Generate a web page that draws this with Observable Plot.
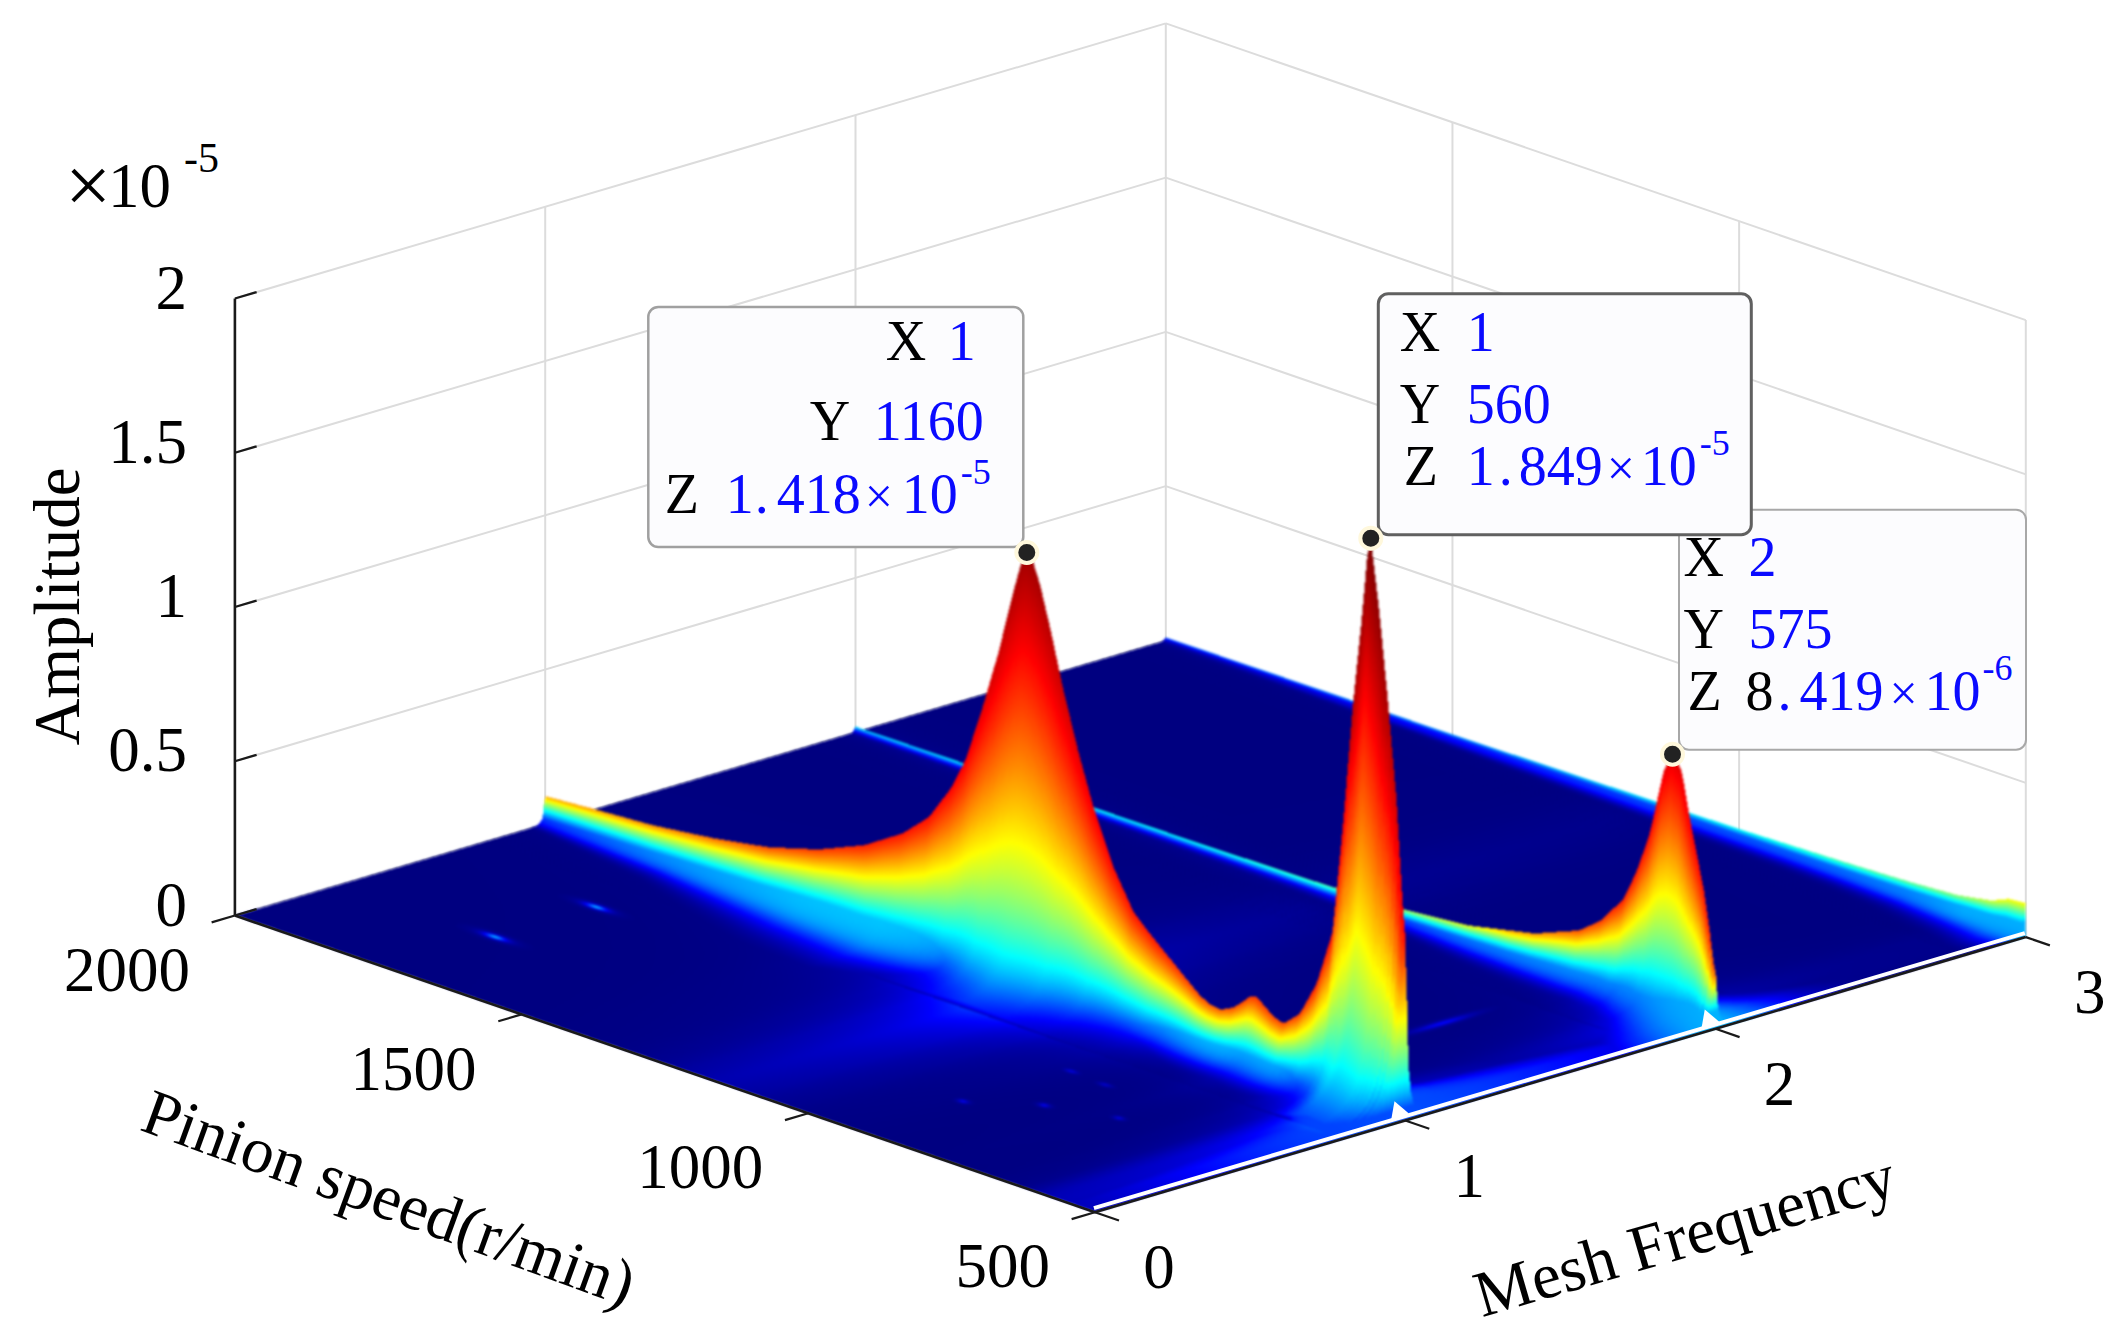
<!DOCTYPE html>
<html><head><meta charset="utf-8">
<style>html,body{margin:0;padding:0;background:#fff}svg{display:block}</style>
<script src="https://cdn.jsdelivr.net/npm/d3@7"></script>
<script src="https://cdn.jsdelivr.net/npm/@observablehq/plot@0.6"></script>
</head><body><div id="chart"></div>
<script>
// ---- values (amplitude in units of 1e-5) ----
const freqTicks = [0, 1, 2, 3];
const speedTicks = [500, 1000, 1500, 2000];
const ampTicks = [0, 0.5, 1, 1.5, 2];
const ampTickLabels = ["0", "0.5", "1", "1.5", "2"];

const ridge1Speed = [500,505,515,530,545,560,564,574,590,607,625,653,683,712,730,747,760,770,785,800,822,840,857,885,915,945,974,1010,1043,1070,1097,1117,1137,1150,1160,1171,1184,1210,1237,1267,1291,1331,1377,1444,1524,1610,1705,1811,1904,2000];
const ridge1Amp   = [0.6,0.72,1.03,1.34,1.62,1.849,1.82,1.6,1.3,0.9,0.54,0.35,0.23,0.178,0.19,0.217,0.235,0.23,0.2,0.174,0.153,0.158,0.175,0.22,0.27,0.32,0.373,0.5,0.663,0.83,1.02,1.183,1.33,1.40,1.418,1.37,1.27,1.058,0.867,0.676,0.573,0.45,0.368,0.287,0.222,0.174,0.142,0.116,0.104,0.09];
const ridge2Speed = [500,503,509,520,544,559,575,590,613,637,660,699,738,815,932,1049,1200,1400,1600,1800,2000];
const ridge2Amp   = [0.18,0.2,0.3,0.435,0.647,0.8,0.8419,0.78,0.57,0.425,0.32,0.224,0.166,0.107,0.058,0.038,0.03,0.024,0.022,0.02,0.018];
const ridge3Speed = [500,530,560,620,700,800,1000,1500,2000];
const ridge3Amp   = [0.11,0.105,0.08,0.06,0.05,0.042,0.03,0.016,0.01];

const widthSpeed = [500,560,600,800,1160,1500,2000];
const ridge1Width = [0.03,0.03,0.025,0.02,0.025,0.014,0.006];
const ridge2Width = [0.02,0.02,0.02,0.015,0.01,0.007,0.006];
const ridge3Width = [0.012,0.012,0.011,0.01,0.008,0.007,0.006];
const backWidth = 0.008;

const glowSpeed = [500,540,600,650,700,800,900,1100,1250,1400,1540,1775,2000];
const glowBack  = [1,1,0.7,0.4,0.2,0.08,0.05,0.04,0.04,0.04,0.04,0.04,0.04];
const glow1Level = [0.2,0.2,0.22,0.28,0.32,0.33,0.33,0.33,0.33,0.33,0.32,0.28,0.2];
const glow1Width = [0.9,0.9,0.15,0.11,0.1,0.09,0.08,0.09,0.12,0.16,0.13,0.06,0.027];
const glow2Level = [0.3,0.3,0.3,0.3,0.3,0.28,0.26,0.2,0.12,0.06,0.03,0.02,0.02];
const glow2Width = [0.3,0.25,0.15,0.1,0.08,0.07,0.06,0.03,0.02,0.015,0.012,0.01,0.01];
const glow3Level = [0.3,0.3,0.3,0.28,0.26,0.24,0.22,0.2,0.18,0.16,0.14,0.1,0.06];
const glow3Width = [0.1,0.1,0.08,0.07,0.06,0.05,0.045,0.04,0.035,0.03,0.025,0.02,0.015];

// colour level reached at the top of a slice, and how it falls towards the floor, by slice amplitude
const topAmp   = [0,0.01,0.02,0.04,0.09,0.17,0.3,0.6,1.0,1.42,1.85];
const topLevel = [0,0.28,0.38,0.55,0.72,0.8,0.85,0.88,0.92,0.97,1.0];
const fallLevel = [1,1,1,1,0.95,0.85,0.7,0.55,0.45,0.41,0.41];

// small spots and streaks on the floor
const spotFreq  = [0.344,0.67,0.668,0.659,0.45,0.515,0.329,1.555];
const spotSpeed = [1732,1732,903,839,832,737,908,735];
const spotLevel = [0.34,0.34,0.1,0.08,0.12,0.1,0.12,0.13];
const spotFreqSize = [0.012,0.012,0.012,0.012,0.012,0.012,0.012,0.11];
const spotSpeedSize = [22,22,14,14,10,10,10,8];

// data tips
const tipFreq  = [1, 1, 2];
const tipSpeed = [1160, 560, 575];
const tipAmp   = [1.418, 1.849, 0.8419];

const jetStops = [0,0.125,0.375,0.625,0.875,1];
const jetColors = ["#000080","#0000ff","#00ffff","#ffff00","#ff0000","#800000"];

// ---- view: orthographic projection of (frequency, speed, amplitude) ----
const view = {x0:1094.4, y0:1211.7, fx:310.3, fy:-91.7, tx:-860, ty:-296.7, zs:308.5};
const P = (f, s, a = 0) => {
  const t = (s - 500) / 1500;
  return {x: view.x0 + view.fx*f + view.tx*t, y: view.y0 + view.fy*f + view.ty*t - view.zs*a};
};

const interp = (xs, ys, x) => {
  const i = Math.min(xs.length - 2, Math.max(0, d3.bisectRight(xs, x) - 1));
  return ys[i] + (ys[i+1]-ys[i]) * (x-xs[i]) / (xs[i+1]-xs[i]);
};

// surface slices every 5 r/min
const nSlice = 301;
const sliceOf = (arrS, arrV) => Float64Array.from({length:nSlice}, (_, i) => interp(arrS, arrV, 500 + 5*i));
function ridge(f0, speed, amp, width, gl, glw, topScale) {
  const A = sliceOf(speed, amp);
  return {f0, A, W: sliceOf(widthSpeed, width), G: sliceOf(glowSpeed, gl), GW: sliceOf(glowSpeed, glw),
    B: sliceOf(glowSpeed, glowBack),
    T: A.map(a => interp(topAmp, topLevel, a) * topScale),
    E: A.map(a => interp(topAmp, fallLevel, a))};
}
const ridges = [
  ridge(1, ridge1Speed, ridge1Amp, ridge1Width, glow1Level, glow1Width, 1),
  ridge(2, ridge2Speed, ridge2Amp, ridge2Width, glow2Level, glow2Width, 1),
  ridge(3, ridge3Speed, ridge3Amp, ridge3Width, glow3Level, glow3Width, 0.85)
];

function floorLevel(f, t) {
  const idx = Math.max(0, Math.min(300, Math.round(t*300)));
  let v = 0;
  for (const r of ridges) {
    const d = f - r.f0, q = d / (d < 0 ? r.W[idx] : backWidth);
    const core = r.T[idx] * Math.pow(1/(1+q*q), r.E[idx]);
    const gq = d / (r.GW[idx] * (d > 0 ? r.B[idx] : 1));
    const glow = gq*gq < 12 ? r.G[idx] * Math.exp(-gq*gq) : 0;
    if (core > v) v = core;
    if (glow > v) v = glow;
  }
  const s = 500 + 1500*t;
  if (s > 700) for (let k = 0; k < spotFreq.length; ++k) {
    const a = (f-spotFreq[k])/spotFreqSize[k], b = (s-spotSpeed[k])/spotSpeedSize[k];
    const rr = a*a + b*b;
    if (rr < 9) { const l = spotLevel[k]/((1+rr)*(1+rr)); if (l > v) v = l; }
  }
  return v;
}

// height field sampled to a pixel grid by looking along the view direction
const box = {x:225, y:530, w:1815, h:695};
const surface = new Float64Array(box.w*box.h).fill(NaN);
{
  const {x0,y0,fx,fy,tx,ty,zs} = view;
  const det = fx*ty - tx*fy, hw = 0.2, df = 0.002, maxA = 1.9;
  for (let j = 0; j < box.h; ++j) {
    const Y = box.y + j + 0.5;
    for (let i = 0; i < box.w; ++i) {
      const X = box.x + i + 0.5;
      const f0 = ((X-x0)*ty - tx*(Y-y0))/det;
      const t0 = (fx*(Y-y0) - fy*(X-x0))/det;
      let val = NaN, done = false;
      for (const r of ridges) {
        if (done) break;
        const lo = Math.max(r.f0-hw, 0), hi = Math.min(r.f0+hw, 3);
        if (lo > f0) break;
        const aAt = f => (y0 + fy*f + ty*(X-x0-fx*f)/tx - Y)/zs;
        if (aAt(hi) > maxA) continue;
        for (let f = lo; f <= hi; f += df) {
          const t = (X-x0-fx*f)/tx;
          if (t < 0) continue;
          if (t > 1) { done = true; break; }
          const a = (y0 + fy*f + ty*t - Y)/zs;
          if (a < 0) { done = true; break; }
          if (a > maxA) continue;
          const ft = t*300, i0 = Math.min(299, Math.floor(ft)), fr = ft-i0;
          const d = f-r.f0, wd = d < 0 ? r.W[i0] : backWidth, q = d/wd;
          const Ah = r.A[i0] + (r.A[i0+1]-r.A[i0])*fr;
          const h = Ah/(1+q*q);
          if (a <= h) {
            const idx = Math.round(ft);
            const gq = d / (r.GW[idx] * (d > 0 ? r.B[idx] : 1));
            const under = gq*gq < 12 ? r.G[idx] * Math.exp(-gq*gq) : 0;
            val = Math.max(under, r.T[idx]*Math.pow(Math.min(1, a/Ah), r.E[idx]));
            done = true; break;
          }
        }
      }
      if (isNaN(val) && f0 >= 0 && f0 <= 3 && t0 >= 0 && t0 <= 1) val = floorLevel(f0, t0);
      surface[j*box.w+i] = val;
    }
  }
}

// ---- layout of helper rows, built from the ticks through the projection ----
const seg = (a, b) => ({x1:a.x, y1:a.y, x2:b.x, y2:b.y});
const gridRows = [
  ...ampTicks.map(z => seg(P(0,2000,z), P(3,2000,z))),
  ...ampTicks.map(z => seg(P(3,2000,z), P(3,500,z))),
  ...[1,2,3].map(f => seg(P(f,2000,0), P(f,2000,2))),
  ...[1500,1000,500].map(s => seg(P(3,s,0), P(3,s,2)))
];
const axisRows = [seg(P(0,2000,0),P(0,2000,2)), seg(P(0,2000,0),P(0,500,0)), seg(P(0,500,0),P(3,500,0))];
const tickRows = [
  ...ampTicks.map(z => seg(P(0,2000,z), P(0.07,2000,z))),
  ...speedTicks.map(s => seg(P(0,s,0), P(-0.075,s,0))),
  ...freqTicks.map(f => seg(P(f,500,0), P(f,458,0)))
];

const serif = "Liberation Serif";
const text = (rows, o) => Plot.text(rows, {x:"x", y:"y", text:"t", fontFamily:serif, fill:"black", ...o});
const at = (p, dx, dy, t) => ({x:p.x+dx, y:p.y+dy, t});

// data tip boxes, anchored on their points
const tips = tipFreq.map((f,i) => P(f, tipSpeed[i], tipAmp[i]));
const tipBoxes = [
  {i:2, l:7, r:354, t:-244, b:-4, stroke:"#a8a8a8", w:2},
  {i:0, l:-378, r:-3, t:-245, b:-5, stroke:"#a0a0a0", w:2.5},
  {i:1, l:8, r:381, t:-244, b:-3, stroke:"#606060", w:3}
].map(b => ({x1:tips[b.i].x+b.l, x2:tips[b.i].x+b.r, y1:tips[b.i].y+b.t, y2:tips[b.i].y+b.b, stroke:b.stroke, sw:b.w}));

const big = {fontSize:56, lineAnchor:"bottom", textAnchor:"start"};
const sup = {fontSize:36, lineAnchor:"bottom", textAnchor:"start"};
const blue = "#0a0aff";
const p0=tips[0], p1=tips[1], p2=tips[2];
const tipBlack = [
  at(p0,-141,-192,"X"), at(p0,-217,-112,"Y"), at(p0,-362,-39,"Z"),
  at(p1,29,-187,"X"), at(p1,29,-115,"Y"), at(p1,33,-53,"Z"),
  at(p2,11,-178,"X"), at(p2,11,-106,"Y"), at(p2,15,-44,"Z"), at(p2,73,-44,"8")
];
const tipBlue = [
  at(p0,-79,-192,"1"), at(p0,-153,-112,"1160"), at(p0,-301,-39,"1"), at(p0,-272,-39,"."), at(p0,-250,-39,"418"), at(p0,-125,-39,"10"),
  at(p1,96,-187,"1"), at(p1,96,-115,"560"), at(p1,96,-53,"1"), at(p1,128,-53,"."), at(p1,148,-53,"849"), at(p1,270,-53,"10"),
  at(p2,76,-178,"2"), at(p2,76,-106,"575"), at(p2,105,-44,"."), at(p2,127,-44,"419"), at(p2,252,-44,"10")
];
const tipTimes = [at(p0,-162,-39,"×"), at(p1,236,-53,"×"), at(p2,217,-44,"×")];
const tipSup = [at(p0,-66,-68,"-5"), at(p1,329,-83,"-5"), at(p2,310,-74,"-6")];

const origin = P(0,500,0), corner = P(0,2000,0);

const chart = Plot.plot({
  width:2125, height:1335, margin:0,
  x:{domain:[0,2125], range:[0,2125], axis:null},
  y:{domain:[0,1335], range:[0,1335], axis:null},
  color:{type:"linear", domain:jetStops, range:jetColors, interpolate:"rgb", clamp:true},
  style:{background:"white", fontFamily:serif},
  marks:[
    Plot.link(gridRows, {x1:"x1",y1:"y1",x2:"x2",y2:"y2", stroke:"#dcdcdc", strokeWidth:2}),
    Plot.raster(surface, {width:box.w, height:box.h, x1:box.x, x2:box.x+box.w, y1:box.y, y2:box.y+box.h}),
    Plot.link([seg(P(0,500,0),P(3,500,0))], {x1:d=>d.x1-1,y1:d=>d.y1-4,x2:d=>d.x2-1,y2:d=>d.y2-4, stroke:"white", strokeWidth:4}),
    Plot.link(axisRows, {x1:"x1",y1:"y1",x2:"x2",y2:"y2", stroke:"#1a1a1a", strokeWidth:2.6}),
    Plot.link(tickRows, {x1:"x1",y1:"y1",x2:"x2",y2:"y2", stroke:"#1a1a1a", strokeWidth:2.2}),
    // white notches at the foot of the two front ridges
    Plot.dot([P(1,500,0),P(2,500,0)], {x:d=>d.x-7, y:d=>d.y-9, symbol:"triangle", r:7, fill:"white", rotate:-20}),
    // tick labels
    text(speedTicks.map(s => at(P(0,s,0),-45,55,String(s))), {fontSize:63, textAnchor:"end"}),
    text(freqTicks.map(f => at(P(f,500,0),64,56,String(f))), {fontSize:63}),
    text(ampTicks.map((z,i) => at(P(0,2000,z),-48,-10,ampTickLabels[i])), {fontSize:63, textAnchor:"end"}),
    text([at(P(0,2000,2),-170,-112,"×")], {fontSize:82, textAnchor:"start"}),
    text([at(P(0,2000,2),-127,-112,"10")], {fontSize:63, textAnchor:"start"}),
    text([at(P(0,2000,2),-51,-140,"-5")], {fontSize:42, textAnchor:"start"}),
    // axis titles
    text([at(corner,-177,-309,"Amplitude")], {fontSize:65, rotate:-90}),
    text([at(corner,154,283,"Pinion speed(r/min)")], {fontSize:65, rotate:20}),
    text([at(origin,590,24,"Mesh Frequency")], {fontSize:65, rotate:-16.3}),
    // data tips
    Plot.rect(tipBoxes, {x1:"x1",x2:"x2",y1:"y1",y2:"y2", fill:"#fcfcfe", stroke:d=>d.stroke, strokeWidth:d=>d.sw, rx:10}),
    text(tipBlack, big),
    text(tipBlue, {...big, fill:blue}),
    text(tipTimes, {...big, fill:blue, fontSize:50}),
    text(tipSup, {...sup, fill:blue}),
    Plot.dot(tips, {x:"x", y:"y", r:10.5, fill:"#222222", stroke:"#fff8dc", strokeWidth:4})
  ]
});
document.getElementById("chart").append(chart);
const img = chart.querySelector("image");
if (img) img.style.filter = "blur(0.8px)";
</script></body></html>
